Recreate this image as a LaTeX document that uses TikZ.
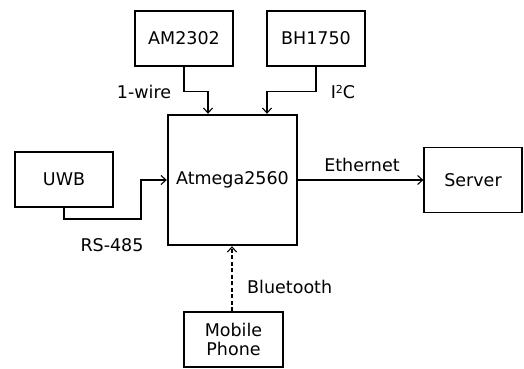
\documentclass[tikz,border=0pt]{standalone}
\usepackage{fontspec}
\setmainfont{DejaVu Sans}
\usetikzlibrary{arrows.meta, positioning}

\tikzset{
  block/.style={draw, line width=1.2pt, minimum width=98pt, minimum height=55pt, align=center},
  mcu/.style={draw, line width=2.4pt, minimum width=129pt, minimum height=130pt},
  link/.style={line width=1.1pt, -{Straight Barb[length=5pt,width=9pt]}},
  lbl/.style={inner sep=0pt}
}

\begin{document}
\begin{tikzpicture}[x=1pt, y=-1pt, font=\fontsize{17.5}{21}\selectfont]
            \useasboundingbox (0,0) rectangle (524,368);

            % Controller
            \node[mcu] (main) at (232.5,180) {Atmega2560};

            % Sensors
            \node[block] (am) at (184,38.5) {AM2302};
            \node[block] (bh) at (316,38.5) {BH1750};
            \node[block] (uwb) at (64,179.5) {UWB};
            \node[block, minimum height=65pt] (server) at (473,180) {Server};
            \node[block, minimum width=99pt] (phone) at (233.5,339.5) {Mobile\\[-2pt]Phone};

            % Links
            \draw[link] (am.south) -- ++(0,25) -| ([xshift=-24.5pt]main.north);
            \draw[link] (bh.south) -- ++(0,25) -| ([xshift=34.5pt]main.north);
            \coordinate (rsbend) at (141,219);
            \draw[link] (uwb.south) |- (rsbend) |- (main.west);
            \draw[link] (main.east) -- (server.west);
            \draw[link, dash pattern=on 4pt off 2.5pt] ([xshift=-1.5pt]phone.north) -- ([xshift=-0.5pt]main.south);

            % Labels
            \node[lbl] (wire) at (144,92) {1-wire};
            \node[lbl] (iic) at (343,92) {I\raisebox{0.55ex}{\fontsize{11}{11}\selectfont 2}C};
            \node[lbl] (rs) at (112,245) {RS-485};
            \node[lbl] (eth) at (362,165) {Ethernet};
            \node[lbl, anchor=west] (bt) at (247,287) {Bluetooth};
        \end{tikzpicture}
\end{document}
